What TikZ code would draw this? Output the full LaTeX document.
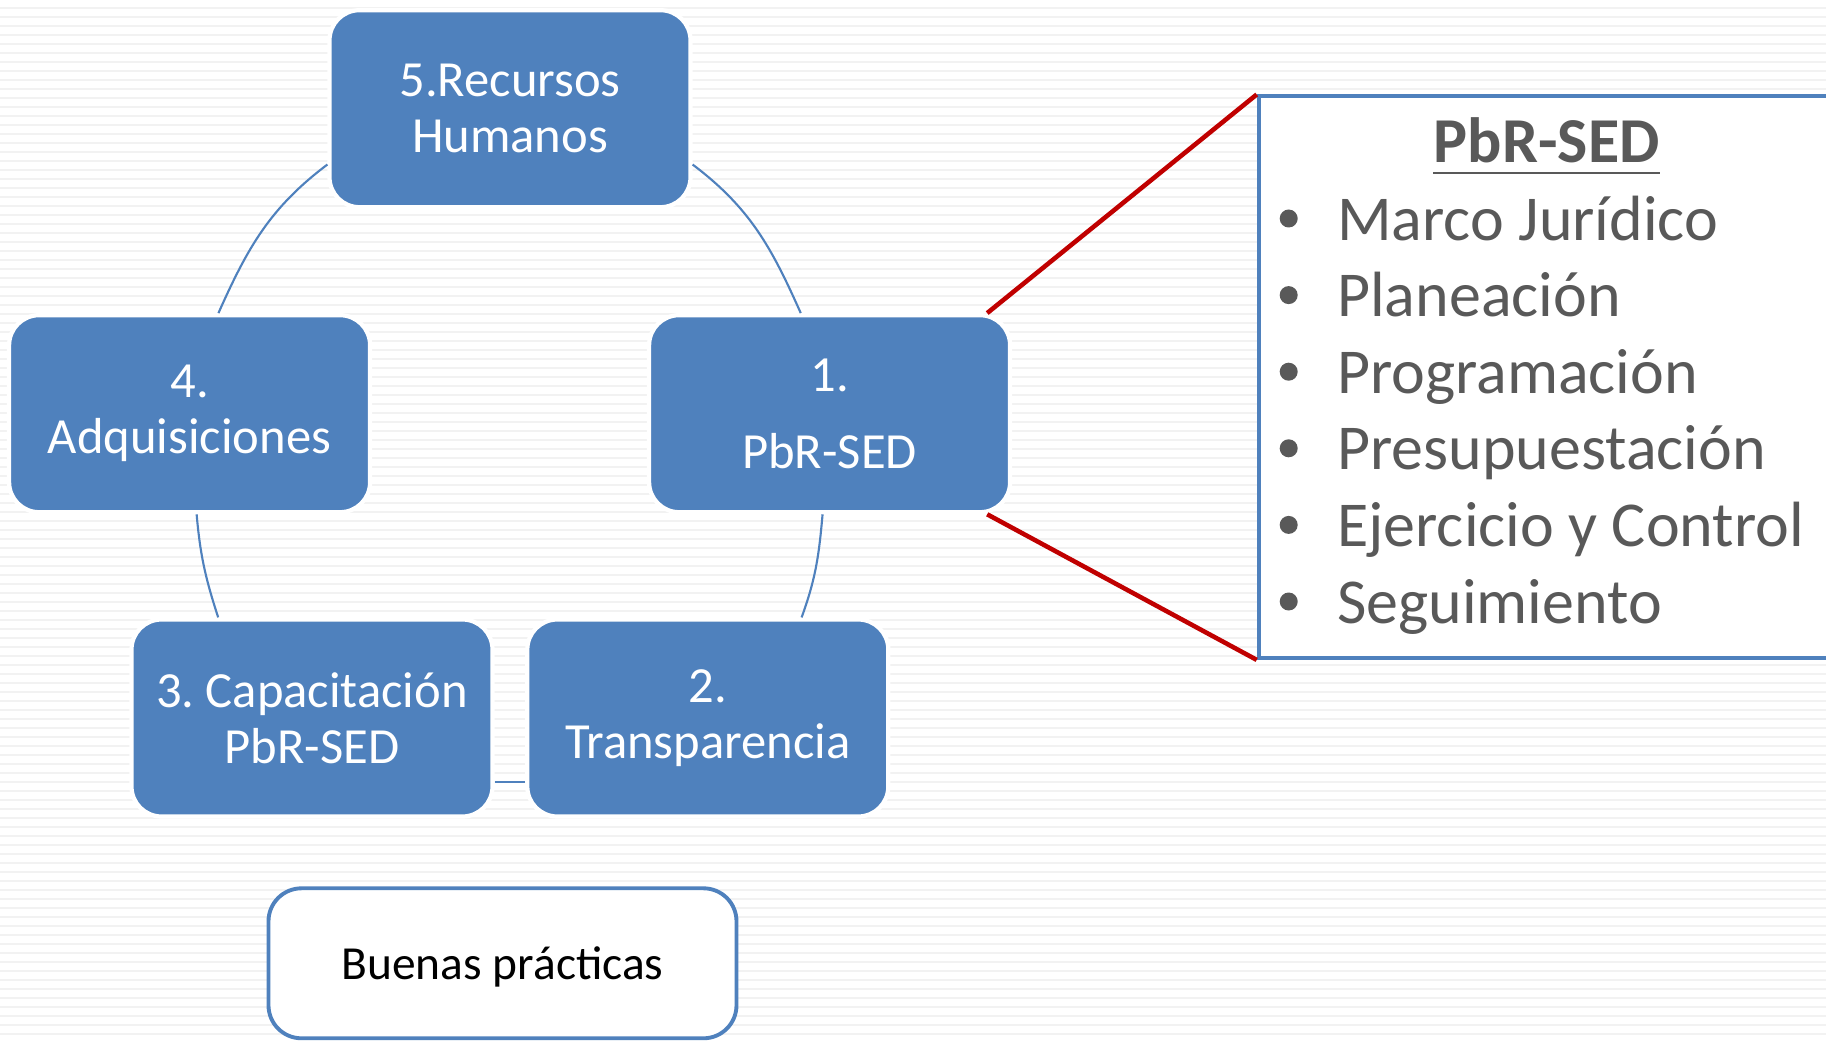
\documentclass[tikz,border=0pt]{standalone}
\usepackage{fontspec}
\setmainfont{Carlito}
\usepackage{tikz}
\frenchspacing
\definecolor{boxblue}{HTML}{4F81BD}
\definecolor{zoomred}{HTML}{C00000}
\definecolor{txtgray}{HTML}{595959}
\tikzstyle{blk}=[draw=white, line width=1.2pt, fill=boxblue, rounded corners=0.3cm, minimum width=3.61cm, minimum height=1.97cm, inner sep=0pt, align=center, text=white, font=\fontsize{14.4}{15.9}\selectfont]
\tikzstyle{cyc}=[draw=boxblue, line width=0.6pt]
\tikzstyle{stripe}=[draw=black!5, line width=0.5pt]
\tikzstyle{lst}=[anchor=base west, inner sep=0pt, text=txtgray, font=\fontsize{18.2}{21}\selectfont]
\tikzstyle{bul}=[circle, fill=txtgray, inner sep=0pt, minimum size=0.18cm]

\begin{document}
\begin{tikzpicture}
    \useasboundingbox (0,0) rectangle (18.26,10.41);
    \fill[white] (0,0) rectangle (18.26,10.41);
    \foreach \k in {0,...,115}
        \draw[stripe] (0,{10.327-0.09*\k}) -- (18.26,{10.327-0.09*\k});

    % cycle
    \node[blk] (n5) at (5.10, 9.323) {5.Recursos\\Humanos};
    \node[blk] (n1) at (8.296, 6.273) {1.\\[0.21cm]PbR-SED};
    \node[blk] (n2) at (7.078, 3.23) {2.\\Transparencia};
    \node[blk] (n3) at (3.12, 3.23) {3. Capacitación\\PbR-SED};
    \node[blk] (n4) at (1.896, 6.273) {4.\\Adquisiciones};
    \draw[cyc] (n5.-17) to[out=-37, in=114] (n1.106);
    \draw[cyc] (n1.-94) to[out=-95, in=70] (n2.47);
    \draw[cyc] ([yshift=-0.637cm]n2.west) -- ([yshift=-0.637cm]n3.east);
    \draw[cyc] (n3.133) to[out=108, in=-85] (n4.-86);
    \draw[cyc] (n4.74) to[out=66, in=-143] (n5.197);

    \node[draw=boxblue, line width=1.1pt, fill=white, rounded corners=0.33cm, minimum width=4.68cm, minimum height=1.5cm, text height=0.43cm, text depth=0.1cm, font=\fontsize{13.5}{16}\selectfont] (bp) at (5.025, 0.777) {Buenas prácticas};

    % zoom box
    \node[draw=boxblue, line width=1.1pt, fill=white, anchor=north west, minimum width=5.9cm, minimum height=5.615cm] (pbr) at (12.567, 9.465) {};
    \draw[zoomred, line width=1.3pt] ([xshift=-0.25cm]n1.north east) -- (pbr.north west);
    \draw[zoomred, line width=1.3pt] ([xshift=-0.25cm]n1.south east) -- (pbr.south west);
    \node[anchor=base, inner sep=0pt, text=txtgray, font=\fontsize{18.2}{21}\selectfont\bfseries] (ttl) at (15.467, 8.787) {PbR-SED};
    \draw[txtgray, line width=0.85pt] ([yshift=-0.107cm]ttl.base west) -- ([yshift=-0.107cm]ttl.base east);
    \foreach \t [count=\i] in {Marco Jurídico, Planeación, Programación, Presupuestación, Ejercicio y Control, Seguimiento} {
        \node[lst] (it\i) at (13.365, {8.01-0.766*(\i-1)}) {\t};
        \node[bul] (bu\i) at (12.887, {8.225-0.766*(\i-1)}) {};
    }
\end{tikzpicture}
\end{document}
